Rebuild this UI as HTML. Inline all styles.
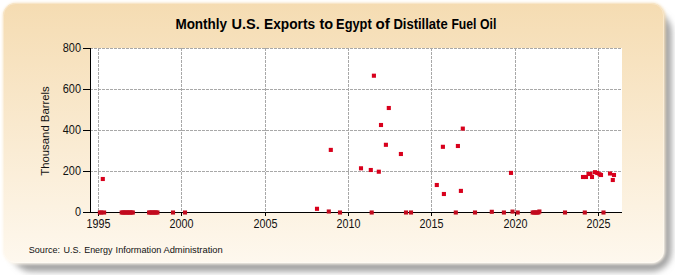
<!DOCTYPE html>
<html><head><meta charset="utf-8"><style>
html,body{margin:0;padding:0;background:#fff;}
body{width:675px;height:275px;position:relative;overflow:hidden;font-family:"Liberation Sans",sans-serif;}
svg{position:absolute;left:0;top:0;}
</style></head><body>
<svg width="675" height="275" viewBox="0 0 675 275">
<defs>
<linearGradient id="bg" x1="0" y1="0" x2="0" y2="1">
<stop offset="0" stop-color="#F5DCB2"/>
<stop offset="1" stop-color="#FEF8EE"/>
</linearGradient>
<filter id="sh" x="-5%" y="-10%" width="110%" height="120%">
<feGaussianBlur stdDeviation="3"/>
</filter>
<filter id="gl" x="-5%" y="-10%" width="110%" height="120%">
<feGaussianBlur stdDeviation="1.6"/>
</filter>
</defs>
<rect x="12" y="12" width="659.5" height="259.5" rx="20" ry="20" fill="#a0a0a0" filter="url(#sh)"/>
<rect x="3" y="3" width="662.3" height="261.3" rx="13.5" ry="13.5" fill="url(#bg)" filter="url(#gl)"/>
<rect x="3" y="3" width="661" height="260" rx="12.5" ry="12.5" fill="url(#bg)"/>
<rect x="3.5" y="3.5" width="660" height="259" rx="12" ry="12" fill="none" stroke="#fff" stroke-opacity="0.3"/>
<rect x="91" y="48" width="531" height="164" fill="#fff"/>
<g stroke="#a8a8a8" stroke-width="1" stroke-dasharray="3,1" fill="none"><line x1="98.5" y1="48" x2="98.5" y2="212"/><line x1="181.5" y1="48" x2="181.5" y2="212"/><line x1="265.5" y1="48" x2="265.5" y2="212"/><line x1="348.5" y1="48" x2="348.5" y2="212"/><line x1="431.5" y1="48" x2="431.5" y2="212"/><line x1="515.5" y1="48" x2="515.5" y2="212"/><line x1="598.5" y1="48" x2="598.5" y2="212"/><line x1="91" y1="48.5" x2="622" y2="48.5" stroke-dashoffset="1"/><line x1="91" y1="89.5" x2="622" y2="89.5" stroke-dashoffset="1"/><line x1="91" y1="130.5" x2="622" y2="130.5" stroke-dashoffset="1"/><line x1="91" y1="171.5" x2="622" y2="171.5" stroke-dashoffset="1"/></g>
<g stroke="#000" stroke-width="1" fill="none">
<line x1="90.5" y1="48" x2="90.5" y2="213"/>
<line x1="90" y1="212.5" x2="622" y2="212.5"/>
<line x1="83" y1="48.5" x2="91" y2="48.5"/><line x1="83" y1="89.5" x2="91" y2="89.5"/><line x1="83" y1="130.5" x2="91" y2="130.5"/><line x1="83" y1="171.5" x2="91" y2="171.5"/><line x1="83" y1="212.5" x2="91" y2="212.5"/><line x1="98.5" y1="212" x2="98.5" y2="216"/><line x1="181.5" y1="212" x2="181.5" y2="216"/><line x1="265.5" y1="212" x2="265.5" y2="216"/><line x1="348.5" y1="212" x2="348.5" y2="216"/><line x1="431.5" y1="212" x2="431.5" y2="216"/><line x1="515.5" y1="212" x2="515.5" y2="216"/><line x1="598.5" y1="212" x2="598.5" y2="216"/>
</g>
<g fill="#D8001C"><rect x="97.85" y="210.45" width="4.1" height="4.1" fill="#C20A1E"/><rect x="99.25" y="210.45" width="4.1" height="4.1" fill="#C20A1E"/><rect x="102.05" y="210.45" width="4.1" height="4.1" fill="#C20A1E"/><rect x="100.75" y="176.95" width="4.1" height="4.1"/><rect x="119.66" y="210.45" width="4.1" height="4.1" fill="#C20A1E"/><rect x="121.05" y="210.45" width="4.1" height="4.1" fill="#C20A1E"/><rect x="122.44" y="210.45" width="4.1" height="4.1" fill="#C20A1E"/><rect x="123.83" y="210.45" width="4.1" height="4.1" fill="#C20A1E"/><rect x="125.22" y="210.45" width="4.1" height="4.1" fill="#C20A1E"/><rect x="126.61" y="210.45" width="4.1" height="4.1" fill="#C20A1E"/><rect x="128.00" y="210.45" width="4.1" height="4.1" fill="#C20A1E"/><rect x="129.39" y="210.45" width="4.1" height="4.1" fill="#C20A1E"/><rect x="130.77" y="210.45" width="4.1" height="4.1" fill="#C20A1E"/><rect x="147.04" y="210.45" width="4.1" height="4.1" fill="#C20A1E"/><rect x="148.43" y="210.45" width="4.1" height="4.1" fill="#C20A1E"/><rect x="149.82" y="210.45" width="4.1" height="4.1" fill="#C20A1E"/><rect x="151.21" y="210.45" width="4.1" height="4.1" fill="#C20A1E"/><rect x="152.60" y="210.45" width="4.1" height="4.1" fill="#C20A1E"/><rect x="153.99" y="210.45" width="4.1" height="4.1" fill="#C20A1E"/><rect x="155.38" y="210.45" width="4.1" height="4.1" fill="#C20A1E"/><rect x="170.95" y="210.45" width="4.1" height="4.1" fill="#C20A1E"/><rect x="182.95" y="210.45" width="4.1" height="4.1" fill="#C20A1E"/><rect x="314.95" y="206.75" width="4.1" height="4.1"/><rect x="326.75" y="209.45" width="4.1" height="4.1" fill="#C20A1E"/><rect x="337.95" y="210.45" width="4.1" height="4.1" fill="#C20A1E"/><rect x="328.75" y="147.85" width="4.1" height="4.1"/><rect x="358.95" y="166.25" width="4.1" height="4.1"/><rect x="368.75" y="167.95" width="4.1" height="4.1"/><rect x="369.65" y="210.45" width="4.1" height="4.1" fill="#C20A1E"/><rect x="371.85" y="73.65" width="4.1" height="4.1"/><rect x="376.75" y="169.65" width="4.1" height="4.1"/><rect x="378.95" y="122.95" width="4.1" height="4.1"/><rect x="383.85" y="142.75" width="4.1" height="4.1"/><rect x="386.75" y="105.95" width="4.1" height="4.1"/><rect x="398.85" y="151.95" width="4.1" height="4.1"/><rect x="403.95" y="210.45" width="4.1" height="4.1" fill="#C20A1E"/><rect x="408.95" y="210.45" width="4.1" height="4.1" fill="#C20A1E"/><rect x="434.75" y="182.95" width="4.1" height="4.1"/><rect x="440.85" y="144.75" width="4.1" height="4.1"/><rect x="441.85" y="191.95" width="4.1" height="4.1"/><rect x="453.75" y="210.45" width="4.1" height="4.1" fill="#C20A1E"/><rect x="472.95" y="210.45" width="4.1" height="4.1" fill="#C20A1E"/><rect x="455.85" y="143.95" width="4.1" height="4.1"/><rect x="458.85" y="188.85" width="4.1" height="4.1"/><rect x="460.75" y="126.55" width="4.1" height="4.1"/><rect x="489.75" y="209.75" width="4.1" height="4.1" fill="#C20A1E"/><rect x="501.85" y="210.45" width="4.1" height="4.1" fill="#C20A1E"/><rect x="508.95" y="170.85" width="4.1" height="4.1"/><rect x="510.45" y="209.55" width="4.1" height="4.1" fill="#C20A1E"/><rect x="515.65" y="210.45" width="4.1" height="4.1" fill="#C20A1E"/><rect x="530.65" y="210.45" width="4.1" height="4.1" fill="#C20A1E"/><rect x="532.05" y="210.45" width="4.1" height="4.1" fill="#C20A1E"/><rect x="533.45" y="210.45" width="4.1" height="4.1" fill="#C20A1E"/><rect x="534.85" y="210.45" width="4.1" height="4.1" fill="#C20A1E"/><rect x="536.25" y="210.45" width="4.1" height="4.1" fill="#C20A1E"/><rect x="537.35" y="209.45" width="4.1" height="4.1" fill="#C20A1E"/><rect x="562.95" y="210.45" width="4.1" height="4.1" fill="#C20A1E"/><rect x="582.75" y="210.45" width="4.1" height="4.1" fill="#C20A1E"/><rect x="601.45" y="210.45" width="4.1" height="4.1" fill="#C20A1E"/><rect x="580.95" y="174.95" width="4.1" height="4.1"/><rect x="583.95" y="174.95" width="4.1" height="4.1"/><rect x="586.45" y="171.95" width="4.1" height="4.1"/><rect x="588.45" y="171.75" width="4.1" height="4.1"/><rect x="589.95" y="174.95" width="4.1" height="4.1"/><rect x="592.95" y="170.15" width="4.1" height="4.1"/><rect x="595.25" y="170.95" width="4.1" height="4.1"/><rect x="597.45" y="172.15" width="4.1" height="4.1"/><rect x="598.95" y="172.95" width="4.1" height="4.1"/><rect x="607.95" y="171.45" width="4.1" height="4.1"/><rect x="611.95" y="172.95" width="4.1" height="4.1"/><rect x="610.75" y="177.95" width="4.1" height="4.1"/></g>
<g font-family="Liberation Sans, sans-serif" font-size="12" fill="#111"><text x="81" y="52.2" text-anchor="end" textLength="18.21" lengthAdjust="spacingAndGlyphs">800</text><text x="81" y="93.2" text-anchor="end" textLength="18.21" lengthAdjust="spacingAndGlyphs">600</text><text x="81" y="134.2" text-anchor="end" textLength="18.21" lengthAdjust="spacingAndGlyphs">400</text><text x="81" y="175.2" text-anchor="end" textLength="18.21" lengthAdjust="spacingAndGlyphs">200</text><text x="81" y="216.2" text-anchor="end" textLength="6.07" lengthAdjust="spacingAndGlyphs">0</text><text x="98.5" y="227.7" text-anchor="middle" textLength="23.9" lengthAdjust="spacingAndGlyphs">1995</text><text x="181.5" y="227.7" text-anchor="middle" textLength="23.9" lengthAdjust="spacingAndGlyphs">2000</text><text x="265.5" y="227.7" text-anchor="middle" textLength="23.9" lengthAdjust="spacingAndGlyphs">2005</text><text x="348.5" y="227.7" text-anchor="middle" textLength="23.9" lengthAdjust="spacingAndGlyphs">2010</text><text x="431.5" y="227.7" text-anchor="middle" textLength="23.9" lengthAdjust="spacingAndGlyphs">2015</text><text x="515.5" y="227.7" text-anchor="middle" textLength="23.9" lengthAdjust="spacingAndGlyphs">2020</text><text x="598.5" y="227.7" text-anchor="middle" textLength="23.9" lengthAdjust="spacingAndGlyphs">2025</text></g>
<text x="175.40" y="28.7" font-family="Liberation Sans, sans-serif" font-weight="bold" font-size="14" fill="#000" textLength="51.70" lengthAdjust="spacingAndGlyphs">Monthly</text><text x="231.40" y="28.7" font-family="Liberation Sans, sans-serif" font-weight="bold" font-size="14" fill="#000" textLength="28.30" lengthAdjust="spacingAndGlyphs">U.S.</text><text x="264.10" y="28.7" font-family="Liberation Sans, sans-serif" font-weight="bold" font-size="14" fill="#000" textLength="51.00" lengthAdjust="spacingAndGlyphs">Exports</text><text x="319.40" y="28.7" font-family="Liberation Sans, sans-serif" font-weight="bold" font-size="14" fill="#000" textLength="13.70" lengthAdjust="spacingAndGlyphs">to</text><text x="336.10" y="28.7" font-family="Liberation Sans, sans-serif" font-weight="bold" font-size="14" fill="#000" textLength="35.60" lengthAdjust="spacingAndGlyphs">Egypt</text><text x="375.40" y="28.7" font-family="Liberation Sans, sans-serif" font-weight="bold" font-size="14" fill="#000" textLength="14.30" lengthAdjust="spacingAndGlyphs">of</text><text x="393.40" y="28.7" font-family="Liberation Sans, sans-serif" font-weight="bold" font-size="14" fill="#000" textLength="54.30" lengthAdjust="spacingAndGlyphs">Distillate</text><text x="451.40" y="28.7" font-family="Liberation Sans, sans-serif" font-weight="bold" font-size="14" fill="#000" textLength="25.00" lengthAdjust="spacingAndGlyphs">Fuel</text><text x="480.10" y="28.7" font-family="Liberation Sans, sans-serif" font-weight="bold" font-size="14" fill="#000" textLength="16.30" lengthAdjust="spacingAndGlyphs">Oil</text>
<text transform="translate(48.5,131) rotate(-90)" text-anchor="middle" font-family="Liberation Sans, sans-serif" font-size="11.35" fill="#111">Thousand Barrels</text>
<text x="28.80" y="253" font-family="Liberation Sans, sans-serif" font-size="9.4" fill="#111" textLength="31.20" lengthAdjust="spacingAndGlyphs">Source:</text><text x="63.50" y="253" font-family="Liberation Sans, sans-serif" font-size="9.4" fill="#111" textLength="17.50" lengthAdjust="spacingAndGlyphs">U.S.</text><text x="84.20" y="253" font-family="Liberation Sans, sans-serif" font-size="9.4" fill="#111" textLength="28.30" lengthAdjust="spacingAndGlyphs">Energy</text><text x="115.60" y="253" font-family="Liberation Sans, sans-serif" font-size="9.4" fill="#111" textLength="45.70" lengthAdjust="spacingAndGlyphs">Information</text><text x="163.40" y="253" font-family="Liberation Sans, sans-serif" font-size="9.4" fill="#111" textLength="59.40" lengthAdjust="spacingAndGlyphs">Administration</text>
</svg></body></html>
